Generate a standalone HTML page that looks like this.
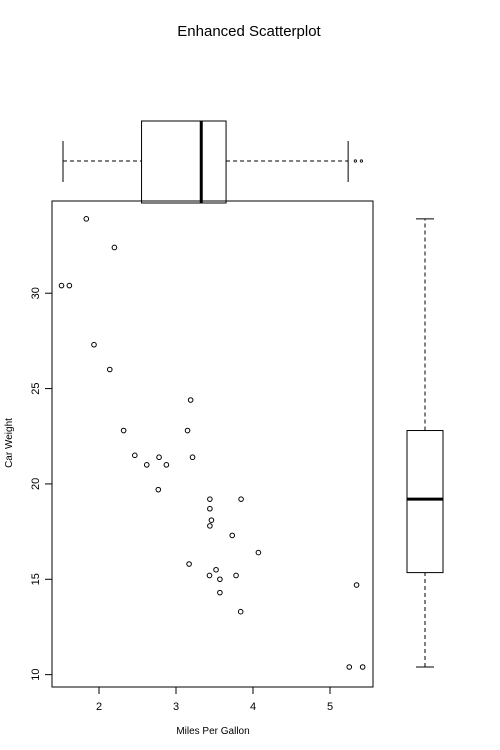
<!DOCTYPE html>
<html><head><meta charset="utf-8"><style>
body{margin:0;background:#fff}
svg{display:block;font-family:"Liberation Sans",Arial,sans-serif}
</style></head><body>
<svg id="c" width="500" height="750">
<text x="249" y="36" font-size="15" text-anchor="middle">Enhanced Scatterplot</text>
<text x="213" y="734" font-size="10" text-anchor="middle">Miles Per Gallon</text>
<text transform="translate(12,443) rotate(-90)" font-size="10" text-anchor="middle">Car Weight</text>
<rect x="52" y="201" width="321" height="486" fill="none" stroke="#000"/>
<g id="g"></g>
</svg>
<script>
const xVals=[2.620,2.875,2.320,3.215,3.440,3.460,3.570,3.190,3.150,3.440,3.440,4.070,3.730,3.780,5.250,5.424,5.345,2.200,1.615,1.835,2.465,3.520,3.435,3.840,3.845,1.935,2.140,1.513,3.170,2.770,3.570,2.780];
const yVals=[21.0,21.0,22.8,21.4,18.7,18.1,14.3,24.4,22.8,19.2,17.8,16.4,17.3,15.2,10.4,10.4,14.7,32.4,30.4,33.9,21.5,15.5,15.2,13.3,19.2,27.3,26.0,30.4,15.8,19.7,15.0,21.4];
const xTicks=[2,3,4,5];
const yTicks=[10,15,20,25,30];
const xBox=[1.513,2.5425,3.325,3.65,5.25];
const xOut=[5.345,5.424];
const yBox=[10.4,15.35,19.2,22.8,33.9];

const NS="http://www.w3.org/2000/svg",g=document.getElementById('g');
const sx=v=>99+(v-2)*77, sy=v=>667-(v-10.4)*19.07;
const bx=v=>63+(v-1.513)*76.3, by=v=>667-(v-10.4)*19.07;
function el(t,a){const e=document.createElementNS(NS,t);for(const k in a)e.setAttribute(k,a[k]);g.appendChild(e);return e;}
function ln(x1,y1,x2,y2,dash,w){return el('line',{x1,y1,x2,y2,stroke:'#000','stroke-width':w||1,'stroke-dasharray':dash||'none'});}
xTicks.forEach(t=>{const e=ln(sx(t),687,sx(t),694);


const tx=el('text',{x:sx(t),y:710,'font-size':11,'text-anchor':'middle'});tx.textContent=t;

});
yTicks.forEach(t=>{const e=ln(45,sy(t),52,sy(t));


const tx=el('text',{transform:`translate(39,${sy(t)}) rotate(-90)`,'font-size':11,'text-anchor':'middle'});tx.textContent=t;

});
xVals.forEach((x,i)=>{const c=el('circle',{cx:sx(x),cy:sy(yVals[i]),r:2.3,fill:'none',stroke:'#000','stroke-width':1});

});
const cy=161;
ln(bx(xBox[0]),cy,bx(xBox[1]),cy,'4,3');ln(bx(xBox[3]),cy,bx(xBox[4]),cy,'4,3');
ln(bx(xBox[0]),141,bx(xBox[0]),182);ln(bx(xBox[4]),141,bx(xBox[4]),182);
let r=el('rect',{x:bx(xBox[1]),y:121,width:bx(xBox[3])-bx(xBox[1]),height:82,fill:'none',stroke:'#000'});


ln(bx(xBox[2]),121,bx(xBox[2]),203,null,3);
xOut.forEach(v=>{const c=el('circle',{cx:bx(v),cy:cy,r:1.2,fill:'none',stroke:'#000','stroke-width':0.8});

});
const cx=425;
ln(cx,by(yBox[0]),cx,by(yBox[1]),'4,3');ln(cx,by(yBox[3]),cx,by(yBox[4]),'4,3');
ln(416,by(yBox[0]),434,by(yBox[0]));ln(416,by(yBox[4]),434,by(yBox[4]));
r=el('rect',{x:407,y:by(yBox[3]),width:36,height:by(yBox[1])-by(yBox[3]),fill:'none',stroke:'#000'});


ln(407,by(yBox[2]),443,by(yBox[2]),null,3);
</script>
</body></html>
